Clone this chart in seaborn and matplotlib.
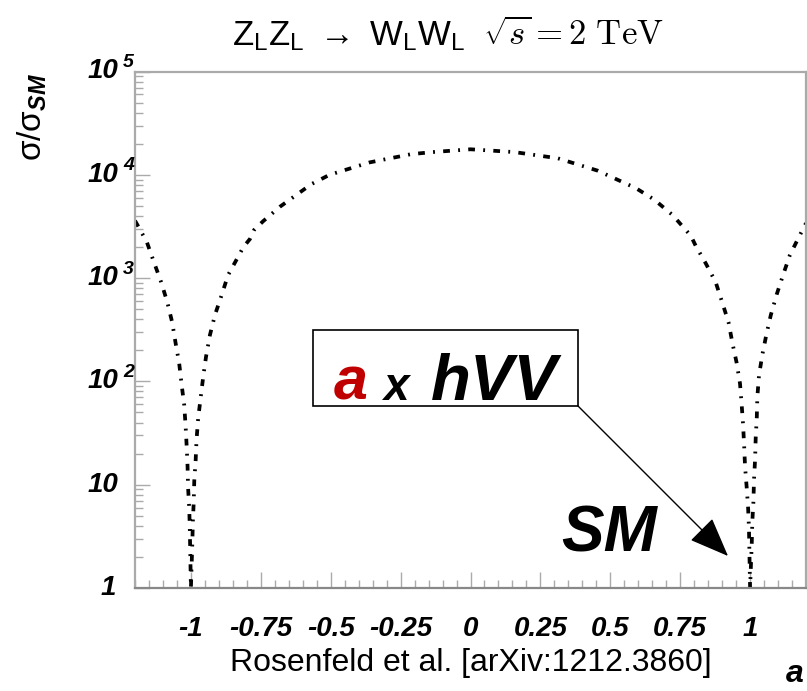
import matplotlib
matplotlib.use("Agg")
import matplotlib.pyplot as plt
import matplotlib.transforms as mtransforms
from matplotlib.patches import Rectangle
from matplotlib.ticker import FixedLocator, LogLocator, MultipleLocator, NullFormatter
import seaborn as sns

# coupling scale factor a (hVV -> a x hVV)
a_values = [
    -1.200, -1.158, -1.135, -1.107, -1.085, -1.067, -1.055, -1.042, -1.033, -1.024,
    -1.019, -1.015, -1.012, -1.010, -1.006, -1.004, -1.000,
    -0.995, -0.993, -0.990, -0.988, -0.983, -0.980, -0.974, -0.965, -0.956, -0.946,
    -0.932, -0.914, -0.890, -0.867, -0.831, -0.813, -0.789, -0.774,
    -0.742, -0.682, -0.569, -0.504, -0.361, -0.212, -0.135, 0.000, 0.157, 0.312,
    0.455, 0.592, 0.657, 0.723, 0.788,
    0.806, 0.842, 0.877, 0.901, 0.923, 0.937, 0.952, 0.964, 0.970, 0.975,
    0.979, 0.982, 0.988, 0.993, 0.996, 1.000,
    1.006, 1.008, 1.012, 1.014, 1.018, 1.020, 1.024, 1.026, 1.032, 1.044,
    1.058, 1.074, 1.095, 1.118, 1.142, 1.175, 1.200,
]
# sigma / sigma_SM
ratio_values = [
    3600, 2249, 1496, 923, 592, 373, 237, 150, 92, 59,
    37, 23, 15, 9.2, 5.9, 3.8, 1.0,
    2.7, 4.4, 6.8, 10.9, 17.3, 27, 44, 70, 111, 173,
    281, 440, 686, 1072, 1611, 1986, 2388, 2924,
    3548, 4898, 8128, 10000, 13183, 15849, 16596, 17660, 16596, 14454,
    10965, 7413, 5754, 4074, 2570,
    2042, 1380, 912, 575, 372, 234, 151, 95, 59, 38,
    23, 15, 9.3, 5.9, 3.8, 1.0,
    2.7, 4.4, 6.9, 11.2, 17.8, 28, 45, 71, 115, 182,
    282, 437, 692, 1072, 1660, 2512, 3400,
]

x_ticks = [-1, -0.75, -0.5, -0.25, 0, 0.25, 0.5, 0.75, 1]
x_tick_labels = ["-1", "-0.75", "-0.5", "-0.25", "0", "0.25", "0.5", "0.75", "1"]
y_decades = [0, 1, 2, 3, 4, 5]

W, H = 807, 691


def fx(px):
    return px / W


def fy(py):
    return 1 - py / H


sns.set_style("white")
plt.rcParams['font.family'] = ['Liberation Sans', 'DejaVu Sans']
plt.rcParams['text.color'] = 'black'
plt.rcParams['mathtext.fontset'] = 'custom'
plt.rcParams['mathtext.rm'] = 'Liberation Sans'
plt.rcParams['mathtext.it'] = 'Liberation Sans:italic'
plt.rcParams['mathtext.bf'] = 'Liberation Sans:italic:bold'

fig = plt.figure(figsize=(W / 100, H / 100), dpi=100)
ax = fig.add_axes([fx(135), fy(588), (806 - 135) / W, (588 - 71.5) / H])

sns.lineplot(x=a_values, y=ratio_values, ax=ax, color='black', linewidth=2.7,
             sort=False, estimator=None)
ax.lines[-1].set_linestyle((0, (1.8, 2.2, 0.5, 2.2)))

ax.set_yscale('log')
ax.set_xlim(-1.2, 1.2)
ax.set_ylim(1, 1e5)

# ROOT-like axes
for side in ['left', 'top', 'right']:
    ax.spines[side].set_color('#aaaaaa')
    ax.spines[side].set_linewidth(1.6)
ax.spines['bottom'].set_color('#888888')
ax.spines['bottom'].set_linewidth(1.6)

tick_font = dict(family='Liberation Sans', weight='bold', style='italic', size=20,
                 color='black')
ax.xaxis.set_major_locator(FixedLocator(x_ticks))
ax.set_xticklabels(x_tick_labels, fontdict=tick_font)
ax.xaxis.set_minor_locator(MultipleLocator(0.05))
ax.tick_params(axis='both', which='both', bottom=True, left=True, top=False,
               right=False)
ax.tick_params(axis='x', which='major', direction='in', length=11.5, width=1,
               color='#aaaaaa', pad=20)
ax.tick_params(axis='x', which='minor', direction='in', length=5.8, width=1,
               color='#aaaaaa')

ax.yaxis.set_major_locator(LogLocator(base=10, numticks=10))
ax.yaxis.set_minor_locator(LogLocator(base=10, subs=range(2, 10), numticks=20))
ax.yaxis.set_major_formatter(NullFormatter())
ax.yaxis.set_minor_formatter(NullFormatter())
ax.tick_params(axis='y', which='major', direction='in', length=11, width=1,
               color='#aaaaaa')
ax.tick_params(axis='y', which='minor', direction='in', length=5.8, width=1,
               color='#aaaaaa')

# y tick labels in ROOT "10 ^n" style
blend = mtransforms.blended_transform_factory(fig.transFigure, ax.transData)
for exp in y_decades:
    v = 10 ** exp
    if exp == 0:
        ax.text(fx(116), v, "1", transform=blend, ha='right', va='center',
                fontdict=tick_font, clip_on=False)
        continue
    ax.text(fx(118), v, "10", transform=blend, ha='right', va='center',
            fontdict=tick_font, clip_on=False)
    if exp > 1:
        off = mtransforms.offset_copy(blend, fig=fig, x=0, y=9, units='dots')
        ax.text(fx(123), v, str(exp), transform=off, ha='left', va='center',
                family='Liberation Sans', weight='bold', style='italic', size=14,
                color='black', clip_on=False)

# axis titles
fig.text(fx(471), fy(663), "Rosenfeld et al. [arXiv:1212.3860]", ha='center',
         va='center', fontsize=23)
fig.text(fx(804), fy(674), "a", ha='right', va='center', fontsize=23,
         weight='bold', style='italic')
fig.text(fx(32), fy(117), r'$\mathrm{\sigma/\sigma}_{\mathbf{SM}}$', rotation=90,
         ha='center', va='center', fontsize=24)

# title: Helvetica part and LaTeX part
fig.text(fx(232), fy(45), r'$\mathrm{Z_{L}Z_{L}\ \rightarrow\ W_{L}W_{L}}$',
         ha='left', va='baseline', fontsize=25)
fig.text(fx(483), fy(45), r'$\sqrt{s} = 2\ \mathrm{TeV}$', ha='left',
         va='baseline', fontsize=25, math_fontfamily='cm')

# annotation box "a x hVV"
box = Rectangle((fx(312.7), fy(405.7)), (577.7 - 312.7) / W, (405.7 - 330) / H,
                transform=fig.transFigure, facecolor='white', edgecolor='black',
                linewidth=1.2, zorder=5)
fig.add_artist(box)
bold_it = dict(weight='bold', style='italic', va='baseline', zorder=6)
fig.text(fx(334), fy(400), "a", color='#c00000', fontsize=44, **bold_it)
fig.text(fx(383), fy(400), "x", color='black', fontsize=33, **bold_it)
fig.text(fx(431), fy(400), "hVV", color='black', fontsize=47, **bold_it)

fig.text(fx(561), fy(551.7), "SM", color='black', fontsize=46, **bold_it)

ax.annotate('', xy=(728, H - 556), xycoords='figure pixels',
            xytext=(577.7, H - 405.7), textcoords='figure pixels',
            arrowprops=dict(arrowstyle='-|>,head_length=1.0,head_width=0.4',
                            mutation_scale=25, lw=1, color='black',
                            shrinkA=0, shrinkB=0))

fig.savefig('out.png', dpi=100)
